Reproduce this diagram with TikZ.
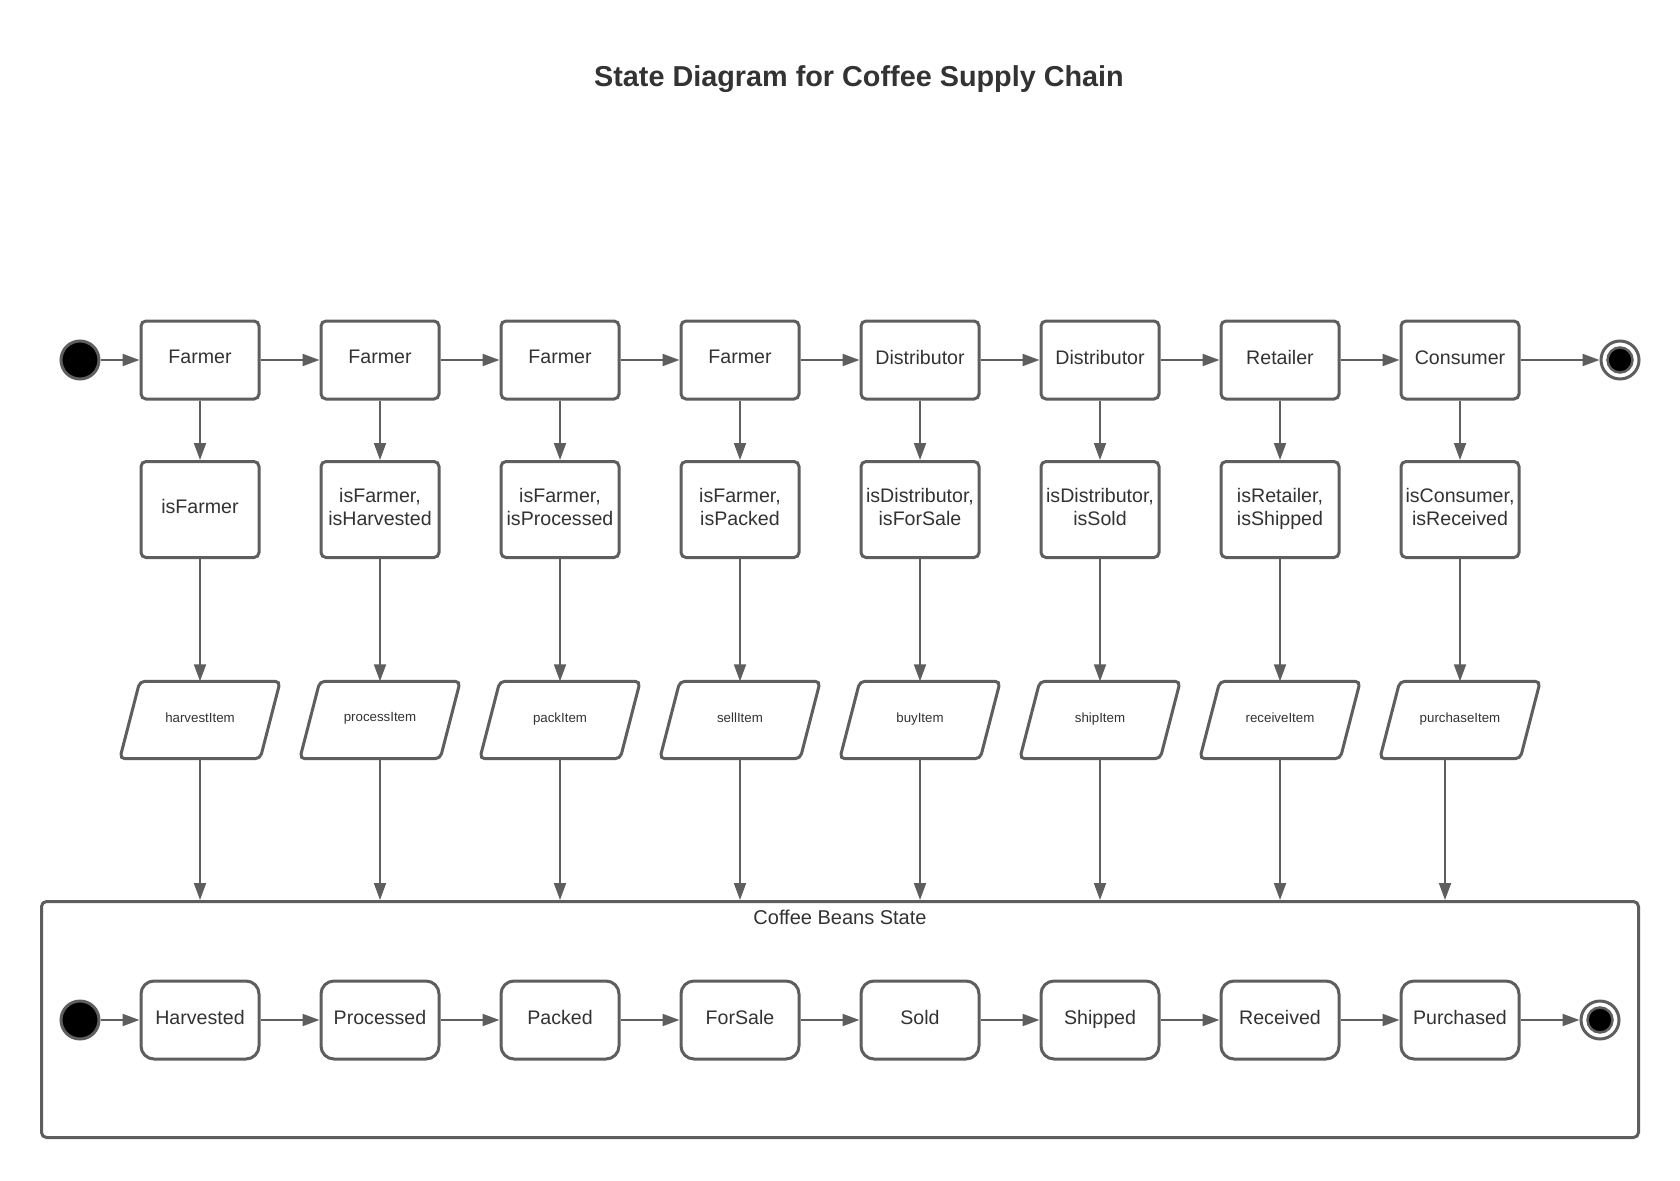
\documentclass[tikz,border=0pt]{standalone}
\usepackage{fontspec}
\setmainfont{Liberation Sans}
\usetikzlibrary{arrows.meta}
\definecolor{lc}{HTML}{5E5E5E}
\definecolor{tc}{HTML}{333333}
\begin{document}
\begin{tikzpicture}[x=1pt,y=-1pt,
  base/.style={draw=lc, line width=3pt, fill=white, text=tc, inner sep=0pt, text depth=5.5pt, font=\fontsize{19.6}{23.3}\selectfont, align=center},
  statebox/.style={base, rounded corners=5pt, minimum width=118pt, minimum height=78pt},
  guardbox/.style={base, rounded corners=5pt, minimum width=118pt, minimum height=96pt},
  beanbox/.style={base, rounded corners=13pt, minimum width=118pt, minimum height=78pt, text depth=6pt},
  actbox/.style={inner sep=0pt, minimum width=140pt, minimum height=77pt, text=tc, font=\fontsize{13.3}{15}\selectfont},
  acttext/.style={actbox, text depth=5.4pt},
  actline/.style={draw=lc, line width=3pt, fill=white, rounded corners=5pt},
  arr/.style={draw=lc, line width=2pt, -{Triangle[length=17pt,width=12pt]}},
  initst/.style={circle, fill=black, draw=lc, line width=3pt, minimum size=38pt, inner sep=0pt},
  finalout/.style={circle, fill=white, draw=lc, line width=3pt, minimum size=38pt, inner sep=0pt},
  finalin/.style={circle, fill=black, draw=lc, line width=2.5pt, minimum size=25pt, inner sep=0pt},
  container/.style={draw=lc, line width=3pt, rounded corners=5pt, minimum width=1597pt, minimum height=236pt, inner sep=0pt},
  titlestyle/.style={text=tc, font=\fontsize{28.8}{34}\selectfont\bfseries}
]
\useasboundingbox (0,0) rectangle (1680,1180);
\fill[white] (0,0) rectangle (1680,1180);

\node[titlestyle] (title) at (859,79.5) {State Diagram for Coffee Supply Chain};

% container
\node[container] (cont) at (840,1019.5) {};
\node[text=tc, font=\fontsize{20}{24}\selectfont] (contlabel) at (840,917) {Coffee Beans State};

\foreach \i/\a/\b/\c/\d in {
  1/Farmer/{isFarmer}/harvestItem/Harvested,
  2/Farmer/{isFarmer,\\isHarvested}/processItem/Processed,
  3/Farmer/{isFarmer,\\isProcessed}/packItem/Packed,
  4/Farmer/{isFarmer,\\isPacked}/sellItem/ForSale,
  5/Distributor/{isDistributor,\\isForSale}/buyItem/Sold,
  6/Distributor/{isDistributor,\\isSold}/shipItem/Shipped,
  7/Retailer/{isRetailer,\\isShipped}/receiveItem/Received,
  8/Consumer/{isConsumer,\\isReceived}/purchaseItem/Purchased}{
  \pgfmathsetmacro{\cx}{200+180*(\i-1)}
  \node[statebox] (t\i) at (\cx,360) {\a};
  \node[guardbox] (m\i) at (\cx,509.5) {\b};
  \node[actbox] (p\i) at (\cx,720) {};
  \draw[actline] ([xshift=10pt]p\i.north west) -- ([xshift=10pt]p\i.north east) -- ([xshift=-10pt]p\i.south east) -- ([xshift=-10pt]p\i.south west) -- cycle;
  \node[acttext] (pl\i) at (p\i) {\c};
  \node[beanbox] (b\i) at (\cx,1020) {\d};
  \draw[arr] (t\i) -- (m\i);
  \draw[arr] (m\i) -- (p\i.north);
}
\foreach \i in {1,...,7}{
  \draw[arr] (p\i.south) -- (p\i.south |- cont.north);
}
\draw[arr] ([xshift=-15pt]p8.south) -- ([xshift=-15pt]p8.south |- cont.north);

\foreach \i [evaluate=\i as \j using int(\i+1)] in {1,...,7}{
  \draw[arr] (t\i) -- (t\j);
  \draw[arr] (b\i) -- (b\j);
}

% start / end states
\node[initst] (s1) at (80,360) {};
\node[finalout] (e1) at (1620,360) {};
\node[finalin] (e1i) at (e1) {};
\draw[arr] (s1) -- (t1);
\draw[arr] (t8) -- (e1);

\node[initst] (s2) at (80,1020) {};
\node[finalout] (e2) at (1600,1020) {};
\node[finalin] (e2i) at (e2) {};
\draw[arr] (s2) -- (b1);
\draw[arr] (b8) -- (e2);
\end{tikzpicture}
\end{document}
